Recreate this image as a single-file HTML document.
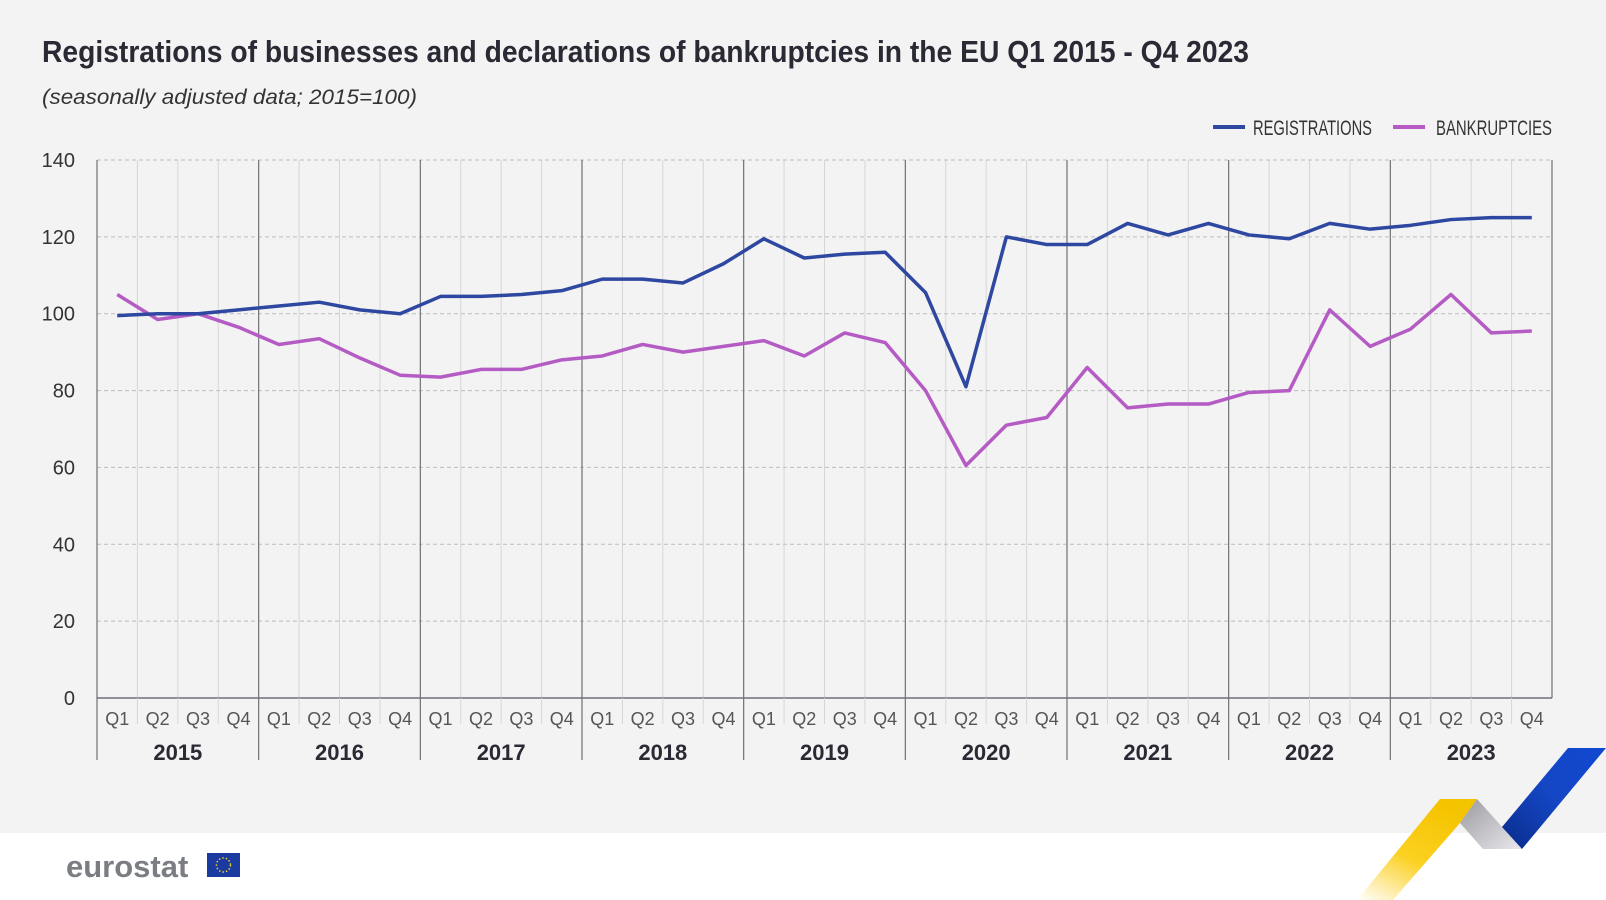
<!DOCTYPE html>
<html><head><meta charset="utf-8"><style>
body{margin:0;width:1606px;height:900px;overflow:hidden;background:#fff;font-family:"Liberation Sans",sans-serif}
#bg{position:absolute;left:0;top:0;width:1606px;height:833px;background:#f3f3f3}
</style></head><body>
<div id="bg"></div>
<svg id="c" width="1606" height="900" style="position:absolute;left:0;top:0">
<defs>
<linearGradient id="gy" x1="0" y1="1" x2="0.6" y2="0"><stop offset="0" stop-color="#fff"/><stop offset="0.5" stop-color="#fbd020"/><stop offset="1" stop-color="#f5c400"/></linearGradient>
<linearGradient id="gg" x1="0" y1="0" x2="1" y2="1"><stop offset="0" stop-color="#9a9aa0"/><stop offset="1" stop-color="#e8e8ec"/></linearGradient>
<linearGradient id="gb" x1="0" y1="1" x2="1" y2="0"><stop offset="0" stop-color="#0a2c8a"/><stop offset="0.5" stop-color="#1446c4"/><stop offset="1" stop-color="#1048d0"/></linearGradient>
</defs>
<text x="42" y="62" font-size="31" font-weight="bold" fill="#2a2a35" textLength="1207" lengthAdjust="spacingAndGlyphs">Registrations of businesses and declarations of bankruptcies in the EU Q1 2015 - Q4 2023</text>
<text x="42" y="104" font-size="21" font-style="italic" fill="#333" textLength="375" lengthAdjust="spacingAndGlyphs">(seasonally adjusted data; 2015=100)</text>
<g>
<line x1="1213" y1="127" x2="1245" y2="127" stroke="#2e47a0" stroke-width="4"/>
<text x="1253" y="135" font-size="21" fill="#333" textLength="119" lengthAdjust="spacingAndGlyphs">REGISTRATIONS</text>
<line x1="1393" y1="127" x2="1425" y2="127" stroke="#b45bc4" stroke-width="4"/>
<text x="1436" y="135" font-size="21" fill="#333" textLength="116" lengthAdjust="spacingAndGlyphs">BANKRUPTCIES</text>
</g>
<g id="grid"></g><g id="series"></g>
<g>
<text x="66" y="877" font-size="31" font-weight="bold" fill="#7a7d82">eurostat</text>
<rect x="207" y="853" width="33" height="24" fill="#1a3aa0"/>
<circle cx="223.5" cy="865" r="7" fill="none" stroke="#f5d020" stroke-width="1.5" stroke-dasharray="1.5 2"/>
</g>
<g>
<polygon points="1357,900 1393,900 1460,823 1477,799 1440,799" fill="url(#gy)"/>
<polygon points="1477,799 1522,849 1483,849 1460,823" fill="url(#gg)"/>
<polygon points="1502,827 1568,748 1606,748 1522,849" fill="url(#gb)"/>
</g>
</svg>
<script>
const quarters=["Q1","Q2","Q3","Q4"];
const years=["2015","2016","2017","2018","2019","2020","2021","2022","2023"];
const yTicks=[0,20,40,60,80,100,120,140];
const registrations=[99.5,100,100,101,102,103,101,100,104.5,104.5,105,106,109,109,108,113,119.5,114.5,115.5,116,105.5,81,120,118,118,123.5,120.5,123.5,120.5,119.5,123.5,122,123,124.5,125,125];
const bankruptcies=[105,98.5,100,96.5,92,93.5,88.5,84,83.5,85.5,85.5,88,89,92,90,91.5,93,89,95,92.5,80,60.5,71,73,86,75.5,76.5,76.5,79.5,80,101,91.5,96,105,95,95.5];
const L=97,R=1552,T=160,B=698,N=years.length*4,step=(R-L)/N;
const x=i=>L+step*(i+0.5), y=v=>B-(v/140)*(B-T);
const NS="http://www.w3.org/2000/svg";
const g=document.getElementById('grid'),s=document.getElementById('series');
function mk(p,tag,a){const e=document.createElementNS(NS,tag);for(const k in a)e.setAttribute(k,a[k]);p.appendChild(e);return e;}
for(let i=1;i<N;i++){if(i%4)mk(g,'line',{x1:L+step*i,x2:L+step*i,y1:T,y2:B,stroke:'#d6d6d6','stroke-width':1});}
yTicks.forEach(v=>{
 if(v>0){const l=mk(g,'line',{x1:L,x2:R,y1:y(v),y2:y(v),stroke:'#bdbdbd','stroke-dasharray':'4 3'});
 
 }
 const t=mk(g,'text',{x:75,y:y(v)+7,'font-size':20,fill:'#333','text-anchor':'end'});t.textContent=v;
 
 
});
for(let i=0;i<=years.length;i++){const xx=L+step*4*i;mk(g,'line',{x1:xx,x2:xx,y1:T,y2:i==0||i==years.length?B:760,stroke:'#707078','stroke-width':1.2});}
mk(g,'line',{x1:L,x2:L,y1:B,y2:760,stroke:'#707078','stroke-width':1.2});
mk(g,'line',{x1:L,x2:R,y1:B,y2:B,stroke:'#707078','stroke-width':1.5});
for(let i=0;i<N;i++){if(i%4)mk(g,'line',{x1:L+step*i,x2:L+step*i,y1:B,y2:724,stroke:'#d6d6d6'});
 const t=mk(g,'text',{x:x(i),y:725,'font-size':18,fill:'#555','text-anchor':'middle'});t.textContent=quarters[i%4];
 
 }
years.forEach((yr,j)=>{const t=mk(g,'text',{x:L+step*(4*j+2),y:760,'font-size':22,'font-weight':'bold',fill:'#2a2a35','text-anchor':'middle'});t.textContent=yr;
 
 });
function line(d,c,n){const p=mk(s,'polyline',{points:d.map((v,i)=>x(i)+','+y(v)).join(' '),fill:'none',stroke:c,'stroke-width':3.5,'stroke-linejoin':'round'});
 
 }
line(bankruptcies,'#b45bc4','bankruptcies-line');
line(registrations,'#2e47a0','registrations-line');
</script>
</body></html>
